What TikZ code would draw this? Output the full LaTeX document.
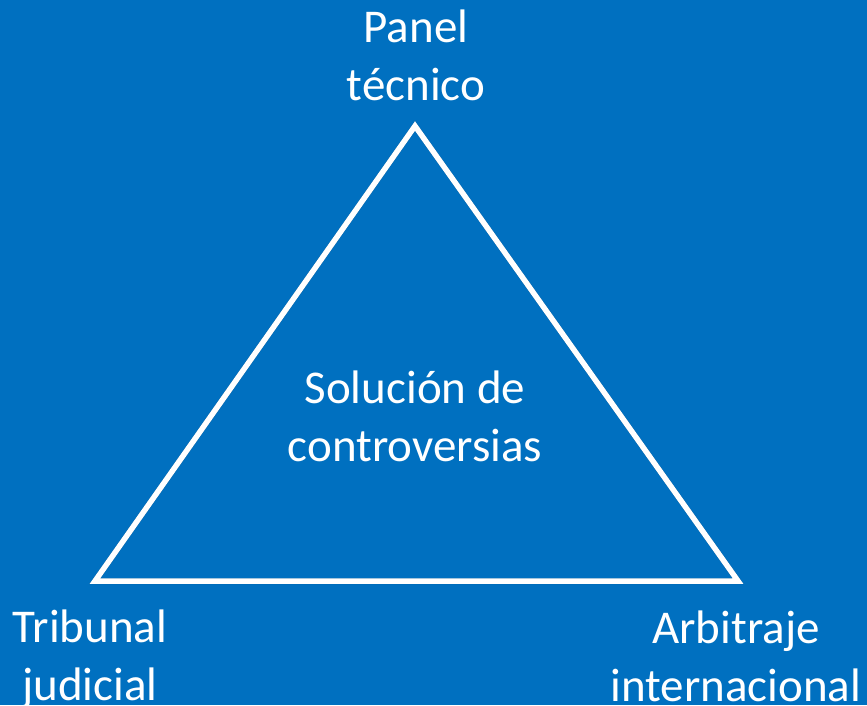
\documentclass[tikz,border=0pt]{standalone}
\usepackage{fontspec}
\setmainfont{Carlito}
\definecolor{bgblue}{HTML}{0070C0}
\definecolor{shadowblue}{HTML}{004A80}
\begin{document}
\begin{tikzpicture}[x=1pt,y=-1pt,
  lbl/.style={text=white,align=center,anchor=base,inner sep=0pt,
    font=\fontsize{47}{58}\selectfont},
  edge/.style={draw=white,line width=5.5pt,line join=miter}]
\fill[bgblue] (0,0) rectangle (867,705);
\useasboundingbox (0,0) rectangle (867,705);
\coordinate (top) at (415,126);
\coordinate (bl) at (95,581);
\coordinate (br) at (738,581);
\draw[draw=shadowblue,line width=6pt,opacity=0.5,line join=miter,shift={(2,3)}] (top) -- (bl) -- (br) -- cycle;
\draw[edge] (top) -- (bl) -- (br) -- cycle;
\node[lbl] (panel) at (416,100) {Panel\\técnico};
\node[lbl] (trib) at (90,700) {Tribunal\\judicial};
\node[lbl] (arb) at (736,701) {Arbitraje\\internacional};
\node[lbl] (sol) at (415,461) {Solución de\\controversias};
\end{tikzpicture}
\end{document}
